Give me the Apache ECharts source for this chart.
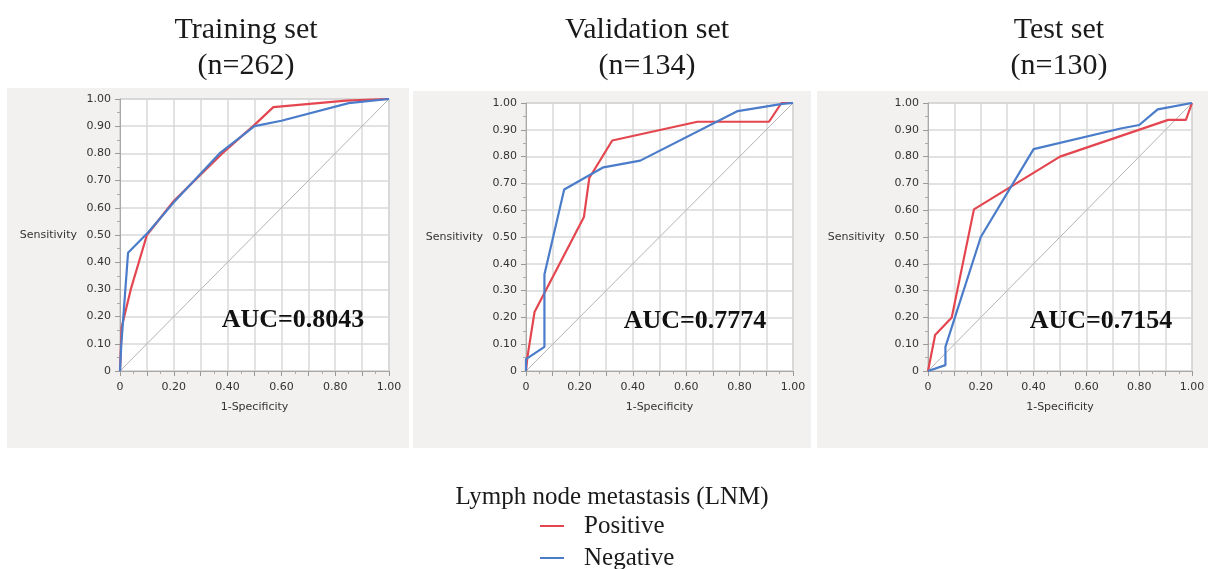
<!DOCTYPE html>
<html lang="en">

<head>
    <meta charset="utf-8">
    <style type="text/css">
    body {
        margin: 0;
        background-color: #fff
    }

    #echarts {
        width: 1208px;
        height: 569px;
    }
    </style>
</head>

<body>
    <div id="echarts"></div>
    <script type="text/javascript" src="https://cdn.jsdelivr.net/npm/echarts@6/dist/echarts.min.js"></script>
    <script type="text/javascript">
    // ROC points [1-specificity, sensitivity]
    var trainPositive = [[0, 0], [0.006, 0.16], [0.04, 0.30], [0.07, 0.40], [0.10, 0.50], [0.20, 0.625], [0.38, 0.80], [0.50, 0.905], [0.57, 0.97], [0.84, 0.994], [1, 1]];
    var trainNegative = [[0, 0], [0.005, 0.10], [0.03, 0.435], [0.105, 0.51], [0.20, 0.62], [0.37, 0.80], [0.50, 0.90], [0.60, 0.92], [0.85, 0.985], [1, 1]];
    var validPositive = [[0, 0], [0.005, 0.05], [0.032, 0.22], [0.217, 0.575], [0.237, 0.72], [0.323, 0.86], [0.642, 0.93], [0.91, 0.93], [0.957, 1.0], [1, 1]];
    var validNegative = [[0, 0], [0, 0.044], [0.069, 0.09], [0.069, 0.36], [0.143, 0.677], [0.29, 0.76], [0.428, 0.785], [0.793, 0.97], [0.96, 0.997], [1, 1]];
    var testPositive = [[0, 0], [0.027, 0.134], [0.09, 0.20], [0.174, 0.603], [0.50, 0.80], [0.91, 0.937], [0.977, 0.937], [1, 1]];
    var testNegative = [[0, 0], [0.066, 0.022], [0.066, 0.09], [0.20, 0.50], [0.40, 0.828], [0.73, 0.905], [0.80, 0.918], [0.87, 0.976], [1, 1]];
    var diagonal = [[0, 0], [1, 1]];

    var panelTitles = ['Training set\n(n=262)', 'Validation set\n(n=134)', 'Test set\n(n=130)'];
    var aucValues = ['0.8043', '0.7774', '0.7154'];
    var seriesNames = ['Positive', 'Negative'];
    var legendTitle = 'Lymph node metastasis (LNM)';

    var panelData = [
        [trainPositive, trainNegative],
        [validPositive, validNegative],
        [testPositive, testNegative]
    ];

    var RED = '#e4464f';
    var BLUE = '#4a7cca';
    var axisFont = 'DejaVu Sans';
    var serif = 'Liberation Serif, Times New Roman, serif';

    // layout of the three panels
    var grids = [
        { left: 120, top: 99, width: 269, height: 272 },
        { left: 526, top: 103, width: 267, height: 268 },
        { left: 928, top: 103, width: 264, height: 268 }
    ];
    var panelBg = [
        { x: 7, y: 88, width: 402, height: 360 },
        { x: 413, y: 91, width: 398, height: 357 },
        { x: 817, y: 91, width: 391, height: 357 }
    ];
    var titleCenters = [246, 647, 1059];
    var aucCenters = [[293, 320], [695, 321], [1101, 321]];
    var legendTops = [508, 540];

    function fmtY(v) {
        return v === 0 ? '0' : v.toFixed(2);
    }

    function fmtX(v) {
        if (Math.round(v * 10) % 2 !== 0) return '';
        return v === 0 ? '0' : v.toFixed(2);
    }

    var myEcharts = echarts.init(document.getElementById('echarts'));

    var option = {
        animation: false,
        backgroundColor: '#fff',
        title: [],
        grid: [],
        xAxis: [],
        yAxis: [],
        series: [],
        graphic: [],
        legend: []
    };

    // one legend block per entry, stacked under the legend title
    for (var k = 0; k < seriesNames.length; k++) {
        option.legend.push({
            data: [seriesNames[k]],
            left: 535,
            top: legendTops[k],
            itemWidth: 24,
            itemHeight: 2,
            icon: 'rect',
            selectedMode: false,
            textStyle: {
                fontFamily: serif,
                fontSize: 25,
                lineHeight: 26,
                color: '#1a1a1a',
                padding: [0, 0, 0, 15]
            }
        });
    }

    for (var i = 0; i < 3; i++) {
        option.title.push({
            text: panelTitles[i],
            left: titleCenters[i],
            top: 12,
            textAlign: 'center',
            padding: 0,
            textStyle: {
                fontFamily: serif,
                fontWeight: 'normal',
                fontSize: 30,
                lineHeight: 36,
                color: '#1a1a1a'
            }
        });
        option.grid.push({
            left: grids[i].left,
            top: grids[i].top,
            width: grids[i].width,
            height: grids[i].height,
            show: true,
            backgroundColor: '#fff',
            borderColor: '#b4b4b4',
            borderWidth: 1
        });
        option.xAxis.push({
            gridIndex: i,
            type: 'value',
            min: 0,
            max: 1,
            interval: 0.1,
            name: '1-Specificity',
            nameLocation: 'middle',
            nameGap: 31,
            nameTextStyle: { fontFamily: axisFont, fontSize: 11, color: '#333' },
            axisLine: { show: true, onZero: false, lineStyle: { color: '#a8a8a8' } },
            axisTick: { show: true, length: 5, lineStyle: { color: '#999' } },
            minorTick: { show: true, splitNumber: 2, length: 3, lineStyle: { color: '#aaa' } },
            axisLabel: { formatter: fmtX, fontFamily: axisFont, fontSize: 11, color: '#333', margin: 11 },
            splitLine: { show: true, lineStyle: { color: '#d9d9d9', width: 1.5 } }
        });
        option.yAxis.push({
            gridIndex: i,
            type: 'value',
            min: 0,
            max: 1,
            interval: 0.1,
            name: 'Sensitivity',
            nameLocation: 'middle',
            nameRotate: 0,
            nameGap: 43,
            nameTextStyle: { fontFamily: axisFont, fontSize: 11, color: '#333' },
            axisLine: { show: true, onZero: false, lineStyle: { color: '#a8a8a8' } },
            axisTick: { show: true, length: 5, lineStyle: { color: '#999' } },
            minorTick: { show: true, splitNumber: 2, length: 3, lineStyle: { color: '#aaa' } },
            axisLabel: { formatter: fmtY, fontFamily: axisFont, fontSize: 11, color: '#333', margin: 9 },
            splitLine: { show: true, lineStyle: { color: '#d9d9d9', width: 1.5 } }
        });
        option.series.push({
            type: 'line',
            xAxisIndex: i,
            yAxisIndex: i,
            data: diagonal,
            symbol: 'none',
            silent: true,
            lineStyle: { color: '#b3b3b3', width: 1 }
        });
        option.series.push({
            name: seriesNames[0],
            type: 'line',
            xAxisIndex: i,
            yAxisIndex: i,
            data: panelData[i][0],
            symbol: 'none',
            color: RED,
            lineStyle: { color: RED, width: 2.2 }
        });
        option.series.push({
            name: seriesNames[1],
            type: 'line',
            xAxisIndex: i,
            yAxisIndex: i,
            data: panelData[i][1],
            symbol: 'none',
            color: BLUE,
            lineStyle: { color: BLUE, width: 2.2 }
        });
        option.graphic.push({
            type: 'rect',
            z: -100,
            silent: true,
            shape: panelBg[i],
            style: { fill: '#f2f1ef' }
        });
        option.graphic.push({
            type: 'text',
            z: 100,
            x: aucCenters[i][0],
            y: aucCenters[i][1],
            style: {
                text: 'AUC=' + aucValues[i],
                fontFamily: serif,
                fontWeight: 'bold',
                fontSize: 26,
                fill: '#111',
                textAlign: 'center',
                textVerticalAlign: 'middle'
            }
        });
    }

    option.title.push({
        text: legendTitle,
        left: 612,
        top: 483,
        textAlign: 'center',
        padding: 0,
        textStyle: {
            fontFamily: serif,
            fontWeight: 'normal',
            fontSize: 25,
            lineHeight: 28,
            color: '#1a1a1a'
        }
    });

    myEcharts.setOption(option);
    </script>
</body>

</html>
